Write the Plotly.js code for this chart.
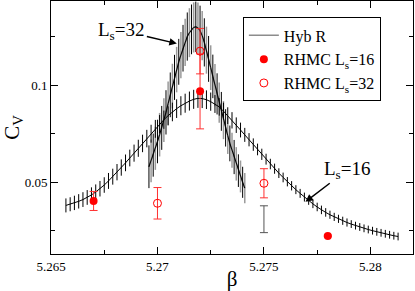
<!DOCTYPE html>
<html>
<head>
<meta charset="utf-8">
<script src="https://cdn.plot.ly/plotly-3.0.1.min.js"></script>
<style>html,body{margin:0;padding:0;background:#fff;}#chart{width:415px;height:291px;}</style>
</head>
<body>
<div id="chart"></div>
<script>
// Hybrid R, Ls = 16
const beta16 = [5.2657,5.2659,5.2661,5.2663,5.2665,5.2667,5.2669,5.2671,5.2673,5.2675,
  5.2677,5.2679,5.2681,5.2683,5.2685,5.2687,5.2689,5.2691,5.2693,5.2695,
  5.2697,5.2699,5.2701,5.2703,5.2705,5.2707,5.2709,5.2711,5.2713,5.2715,
  5.2717,5.2719,5.2721,5.2723,5.2725,5.2727,5.2729,5.2731,5.2733,5.2735,
  5.2737,5.2739,5.2741,5.2743,5.2745,5.2747,5.2749,5.2751,5.2753,5.2755,
  5.2757,5.2759,5.2761,5.2763,5.2765,5.2767,5.2769,5.2771,5.2773,5.2775,
  5.2777,5.2779,5.2781,5.2783,5.2785,5.2787,5.2789,5.2791,5.2793,5.2795,
  5.2797,5.2799,5.2801,5.2803,5.2805,5.2807,5.2809,5.2811,5.2813];
const cv16 = [0.0381,0.0387,0.0394,0.0402,0.0411,0.0422,0.0435,0.0450,0.0467,0.0486,
  0.0507,0.0529,0.0552,0.0576,0.0600,0.0625,0.0650,0.0675,0.0700,0.0725,
  0.0750,0.0775,0.0799,0.0822,0.0843,0.0862,0.0879,0.0894,0.0907,0.0918,
  0.0927,0.0932,0.0931,0.0925,0.0915,0.0903,0.0888,0.0866,0.0843,0.0819,
  0.0794,0.0769,0.0744,0.0719,0.0694,0.0669,0.0644,0.0619,0.0594,0.0570,
  0.0547,0.0525,0.0503,0.0482,0.0462,0.0443,0.0424,0.0406,0.0389,0.0373,
  0.0358,0.0345,0.0333,0.0322,0.0312,0.0302,0.0293,0.0285,0.0277,0.0270,
  0.0263,0.0257,0.0251,0.0245,0.0240,0.0235,0.0230,0.0225,0.0221];
const err16 = [0.0036,0.0036,0.0037,0.0037,0.0038,0.0038,0.0039,0.0039,0.0040,0.0040,
  0.0041,0.0041,0.0042,0.0042,0.0043,0.0043,0.0044,0.0044,0.0045,0.0045,
  0.0046,0.0046,0.0047,0.0047,0.0048,0.0048,0.0048,0.0049,0.0049,0.0049,
  0.0049,0.0049,0.0049,0.0048,0.0047,0.0046,0.0045,0.0044,0.0043,0.0042,
  0.0040,0.0038,0.0036,0.0034,0.0032,0.0030,0.0029,0.0028,0.0027,0.0026,
  0.0025,0.0025,0.0024,0.0024,0.0023,0.0023,0.0023,0.0022,0.0022,0.0022,
  0.0022,0.0022,0.0021,0.0021,0.0021,0.0021,0.0021,0.0020,0.0020,0.0020,
  0.0020,0.0020,0.0020,0.0020,0.0020,0.0020,0.0020,0.0020,0.0020];

// Hybrid R, Ls = 32
const beta32 = [5.2696,5.2697,5.2698,5.2699,5.2700,5.2701,5.2702,5.2703,5.2704,5.2705,
  5.2706,5.2707,5.2708,5.2709,5.2710,5.2711,5.2712,5.2713,5.2714,5.2715,
  5.2716,5.2717,5.2718,5.2719,5.2720,5.2721,5.2722,5.2723,5.2724,5.2725,
  5.2726,5.2727,5.2728,5.2729,5.2730,5.2731,5.2732,5.2733,5.2734,5.2735,
  5.2736,5.2737,5.2738,5.2739,5.2740,5.2741];
const cv32 = [0.058,0.061,0.064,0.0675,0.071,0.0745,0.078,0.082,0.086,0.0905,
  0.095,0.0995,0.104,0.108,0.112,0.1155,0.119,0.122,0.125,0.127,
  0.1287,0.1297,0.1300,0.1295,0.128,0.1255,0.122,0.118,0.1135,0.109,
  0.1045,0.100,0.0955,0.091,0.0865,0.082,0.078,0.074,0.070,0.0665,
  0.063,0.0595,0.056,0.053,0.050,0.047];
const err32 = [0.0110,0.0110,0.0111,0.0111,0.0112,0.0112,0.0113,0.0113,0.0114,0.0114,
  0.0115,0.0115,0.0116,0.0117,0.0118,0.0119,0.0120,0.0122,0.0124,0.0126,
  0.0128,0.0129,0.0130,0.0130,0.0129,0.0127,0.0124,0.0121,0.0118,0.0115,
  0.0112,0.0109,0.0106,0.0103,0.0100,0.0098,0.0096,0.0094,0.0092,0.0090,
  0.0088,0.0086,0.0084,0.0082,0.0080,0.0078];

// isolated Hyb R point (error bar only)
const betaExtra = [5.275];
const cvExtra = [0.031];
const errExtra = [0.0069];

// RHMC Ls = 16
const betaR16 = [5.267, 5.272, 5.278];
const cvR16 = [0.0404, 0.0968, 0.0224];
const errR16 = [0.0049, 0.0193, 0.0004];

// RHMC Ls = 32
const betaR32 = [5.270, 5.272, 5.275];
const cvR32 = [0.0392, 0.1175, 0.0495];
const errR32 = [0.0081, 0.0117, 0.0075];

const FONT = 'Liberation Serif, Times New Roman, serif';
const errGray32 = err32.map((e, i) => (i % 2 === 1 ? e : 0));
const errBlack32 = err32.map((e, i) => (i % 2 === 0 ? e : 0));

const traces = [
  {x: beta32, y: cv32, mode: 'lines', name: 'Hyb R',
   line: {color: '#8c8c8c', width: 1.5},
   error_y: {type: 'data', array: errGray32, visible: true, color: '#9a9a9a', thickness: 1.5, width: 0}},
  {x: beta32, y: cv32, mode: 'lines', showlegend: false,
   line: {color: 'black', width: 1},
   error_y: {type: 'data', array: errBlack32, visible: true, color: 'black', thickness: 1, width: 0}},
  {x: beta16, y: cv16, mode: 'lines', showlegend: false,
   line: {color: 'black', width: 1},
   error_y: {type: 'data', array: err16, visible: true, color: 'black', thickness: 1, width: 0}},
  {x: betaExtra, y: cvExtra, mode: 'markers', showlegend: false,
   marker: {color: 'rgba(0,0,0,0)', size: 1},
   error_y: {type: 'data', array: errExtra, visible: true, color: '#555', thickness: 1, width: 4}},
  {x: betaR16, y: cvR16, mode: 'markers', name: 'RHMC L<sub>s</sub>=16',
   marker: {color: 'red', size: 8, symbol: 'circle'},
   error_y: {type: 'data', array: errR16, visible: true, color: '#ff3030', thickness: 1, width: 4}},
  {x: betaR32, y: cvR32, mode: 'markers', name: 'RHMC L<sub>s</sub>=32',
   marker: {color: 'red', size: 8, symbol: 'circle-open', line: {width: 1, color: 'red'}},
   error_y: {type: 'data', array: errR32, visible: true, color: '#ff3030', thickness: 1, width: 4}}
];

const layout = {
  width: 415, height: 291,
  margin: {l: 51, r: 2, t: 1, b: 37},
  paper_bgcolor: 'white', plot_bgcolor: 'white',
  font: {family: FONT, color: 'black', size: 13},
  showlegend: true,
  legend: {x: 0.53, y: 0.935, xanchor: 'left', yanchor: 'top',
    bordercolor: 'black', borderwidth: 1, bgcolor: 'white',
    font: {family: FONT, size: 16, color: 'black'}, traceorder: 'normal'},
  xaxis: {range: [5.265, 5.282], tick0: 5.265, dtick: 0.005,
    ticks: 'inside', ticklen: 7, tickcolor: 'black', tickwidth: 1,
    showline: true, linecolor: 'black', linewidth: 1, mirror: 'allticks',
    showgrid: false, zeroline: false,
    minor: {dtick: 0.0025, ticks: 'inside', ticklen: 4, tickcolor: 'black', showgrid: false},
    tickfont: {family: FONT, size: 13, color: 'black'},
    title: {text: 'β', font: {family: FONT, size: 21, color: 'black'}, standoff: 3}},
  yaxis: {range: [0.0131, 0.1433], tick0: 0, dtick: 0.05,
    ticks: 'inside', ticklen: 7, tickcolor: 'black', tickwidth: 1,
    showline: true, linecolor: 'black', linewidth: 1, mirror: 'allticks',
    showgrid: false, zeroline: false,
    minor: {dtick: 0.025, ticks: 'inside', ticklen: 4, tickcolor: 'black', showgrid: false},
    tickfont: {family: FONT, size: 13, color: 'black'},
    title: {text: 'C<sub>V</sub>', font: {family: FONT, size: 21, color: 'black'}, standoff: 5}},
  annotations: [
    {x: 5.27091, y: 0.1214, xref: 'x', yref: 'y', text: 'L<sub>s</sub>=32',
     showarrow: true, arrowhead: 2, arrowsize: 1, arrowwidth: 1.5, arrowcolor: 'black',
     ax: -55, ay: -13, font: {family: FONT, size: 19, color: 'black'}},
    {x: 5.27695, y: 0.0400, xref: 'x', yref: 'y', text: 'L<sub>s</sub>=16',
     showarrow: true, arrowhead: 2, arrowsize: 1, arrowwidth: 1.5, arrowcolor: 'black',
     ax: 42, ay: -32, font: {family: FONT, size: 19, color: 'black'}}
  ]
};

Plotly.newPlot('chart', traces, layout, {displayModeBar: false, staticPlot: true});
</script>
</body>
</html>
